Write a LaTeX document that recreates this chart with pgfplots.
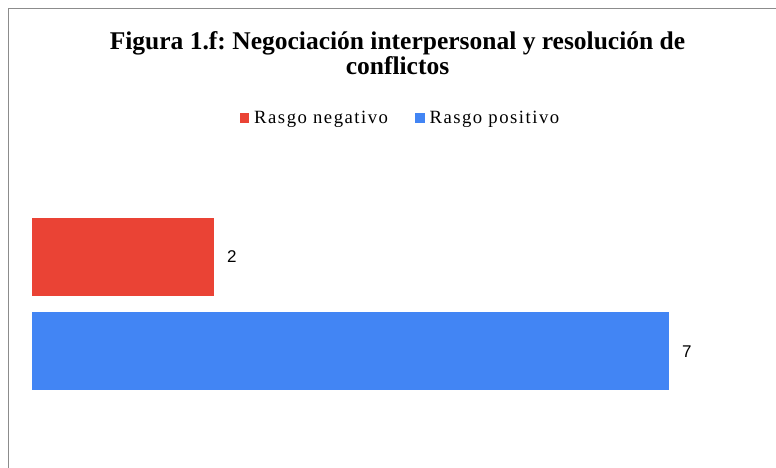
\documentclass[border=0pt]{standalone}
\usepackage{pgfplots}
\pgfplotsset{compat=1.18}
\usepackage{fontspec}
\setmainfont{Liberation Serif}
\newfontfamily\sansfont{Liberation Sans}
\newfontfamily\legfont[LetterSpace=8]{Liberation Serif}
\definecolor{cred}{HTML}{EA4335}
\definecolor{cblue}{HTML}{4285F4}
\definecolor{frame}{HTML}{8C8C8C}
\frenchspacing
\begin{document}
\begin{tikzpicture}[x=1pt,y=1pt]
\useasboundingbox (0,0) rectangle (776,468);
\fill[white] (0,0) rectangle (776,468);
\draw[frame, line width=1pt] (8.5,0) -- (8.5,459.5) -- (777,459.5);
\node[anchor=base, inner sep=0pt, font=\fontsize{25.5}{28}\selectfont\bfseries] at (397.5,418) {Figura 1.f: Negociación interpersonal y resolución de};
\node[anchor=base, inner sep=0pt, font=\fontsize{25.5}{28}\selectfont\bfseries] at (397.5,393.7) {conflictos};
\begin{axis}[
  at={(32pt,22pt)}, anchor=south west,
  scale only axis, width=728pt, height=283.5pt,
  xmin=0, xmax=8, ymin=-1, ymax=2,
  axis line style={draw=none}, ticks=none,
  clip=false,
  xbar, bar width=78pt, bar shift=0pt,
  /pgf/number format/assume math mode=true,
  nodes near coords,
  every node near coord/.append style={anchor=west, inner xsep=0pt, xshift=13pt, font=\sansfont\fontsize{17}{19}\selectfont, text=black},
  legend columns=2,
  legend style={draw=none, fill=none, at={(0.5047,1.157)}, anchor=center,
    font=\legfont\fontsize{18.7}{20}\selectfont,
    /tikz/every even column/.append style={column sep=27pt},
    inner sep=0pt, nodes={inner sep=0pt}},
  legend image code/.code={\fill[#1] (0pt,-4.8pt) rectangle (9.6pt,4.8pt); \path (14.6pt,0pt);},
]
\addplot[fill=cred, draw=none] coordinates {(2,1)};
\addlegendentry{Rasgo negativo}
\addplot[fill=cblue, draw=none] coordinates {(7,0)};
\addlegendentry{Rasgo positivo}
\end{axis}
\end{tikzpicture}
\end{document}
